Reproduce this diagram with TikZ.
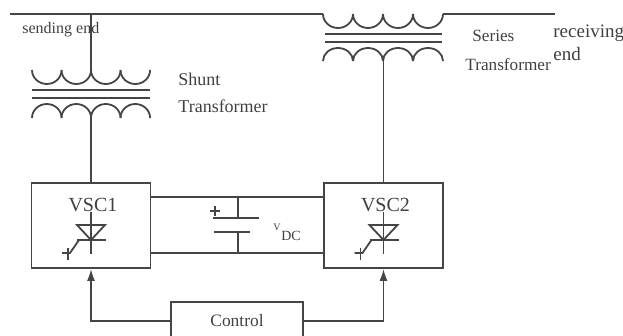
\documentclass[tikz,border=0pt]{standalone}
\usepackage{fontspec}
\setmainfont{Liberation Serif}
\usetikzlibrary{arrows.meta, positioning, calc}
\definecolor{wireink}{gray}{0.27}
\definecolor{textink}{gray}{0.25}
\tikzset{
  wire/.style={draw=wireink, line width=0.9pt},
  vscbox/.style={wire, rectangle, minimum width=59.5pt, minimum height=42.5pt, inner sep=0pt},
  ctrlbox/.style={wire, rectangle, minimum width=66pt, minimum height=19pt, inner sep=0pt, text=textink, font=\fontsize{8.7}{10}\selectfont},
  lbl/.style={text=textink, inner sep=0pt, anchor=west, font=\fontsize{9}{10}\selectfont},
  vsclbl/.style={text=textink, inner sep=0pt, font=\fontsize{10}{12}\selectfont}
}
\begin{document}
\begin{tikzpicture}[x=0.5pt, y=-0.5pt]
  \useasboundingbox (0,0) rectangle (623,336);
  \clip (0,0) rectangle (623,336);

  % Bus
  \coordinate (busstart) at (10,14);
  \coordinate (shunttap) at (91,14);
  \coordinate (seriesleft) at (323,14);
  \coordinate (seriesright) at (443,14);
  \coordinate (busend) at (555,14);
  \draw[wire] (busstart) -- (seriesleft);
  \draw[wire] (seriesright) -- (busend);

  % Shunt transformer
  \foreach \x in {32,61.5,91,120.5} \draw[wire] (\x,70) arc[start angle=180, end angle=360, x radius=7.4pt, y radius=7pt];
  \foreach \y in {90,98} \draw[wire] (32,\y) -- (150,\y);
  \foreach \x in {32,61.5,91,120.5} \draw[wire] (\x,118) arc[start angle=180, end angle=0, x radius=7.4pt, y radius=7pt];
  \coordinate (shuntup) at (91,70);
  \coordinate (shuntdown) at (91,118);

  % Series transformer
  \foreach \x in {323,353,383,413} \draw[wire] (\x,14) arc[start angle=180, end angle=360, x radius=7.5pt, y radius=7pt];
  \foreach \y in {34,42} \draw[wire] (325,\y) -- (442,\y);
  \foreach \x in {323,353,383,413} \draw[wire] (\x,61) arc[start angle=180, end angle=0, x radius=7.5pt, y radius=6.5pt];
  \coordinate (seriesdown) at (383.5,61);

  % Converters
  \node[vscbox] (vscone) at (91,225.5) {};
  \node[vscbox] (vsctwo) at (383.5,225.5) {};
  \node[ctrlbox] (control) at (237,321) {Control};
  \draw[wire] (shunttap) -- (shuntup);
  \draw[wire] (shuntdown) -- (vscone.north);
  \draw[wire] (seriesdown) -- (vsctwo.north);

  % Thyristors
  \foreach \x/\name/\txt in {91/vscone/VSC1, 383.5/vsctwo/VSC2} {
    \draw[wire] (\x,212) -- (\x,254);
    \node[vsclbl] (\name-label) at (\x+2,205) {\txt};
    \draw[wire] (\x-14,225) -- (\x+14,225) -- (\x,240) -- cycle;
    \draw[wire] (\x-14,240) -- (\x+15,240);
    \draw[wire] (\x-7,240) -- (\x-12,240) -- (\x-21,253) -- (\x-29,253);
    \draw[wire] (\x-23,248) -- (\x-23,260);
  }

  % DC link
  \coordinate (dctop) at (238,197);
  \coordinate (dcbottom) at (238,253);
  \coordinate (plateup) at (238,218);
  \coordinate (platedown) at (238,232);
  \draw[wire] (dctop -| vscone.east) -- (dctop -| vsctwo.west);
  \draw[wire] (dcbottom -| vscone.east) -- (dcbottom -| vsctwo.west);
  \draw[wire] (dctop) -- (plateup);
  \draw[wire] (platedown) -- (dcbottom);
  \draw[wire] (213,218) -- (259,218);
  \draw[wire] (214,232) -- (250,232);
  \draw[wire] (210,211) -- (220,211);
  \draw[wire] (215,206) -- (215,216);
  \node[text=textink, inner sep=0pt, font=\fontsize{5}{6}\selectfont] (vdcv) at (277,227) {V};
  \node[text=textink, inner sep=0pt, font=\fontsize{7}{9}\selectfont] (vdcdc) at (291,236) {DC};

  % Control lines
  \draw[wire, -{Latex[length=6pt, width=4pt]}] (control.west) -| (vscone.south);
  \draw[wire, -{Latex[length=6pt, width=4pt]}] (control.east) -| (vsctwo.south);

  % Labels
  \node[lbl, font=\fontsize{8}{10}\selectfont] (sending) at (22,30) {sending end};
  \node[lbl] (shuntname) at (178,79) {Shunt};
  \node[lbl] (shunttrans) at (178,106) {Transformer};
  \node[lbl, font=\fontsize{8.6}{10}\selectfont] (seriesname) at (472,36) {Series};
  \node[lbl, font=\fontsize{8.6}{10}\selectfont] (seriestrans) at (465,65) {Transformer};
  \node[lbl, font=\fontsize{9.5}{11}\selectfont] (receiving) at (553,33) {receiving};
  \node[lbl, font=\fontsize{9.5}{11}\selectfont] (recend) at (553,54) {end};
\end{tikzpicture}
\end{document}
